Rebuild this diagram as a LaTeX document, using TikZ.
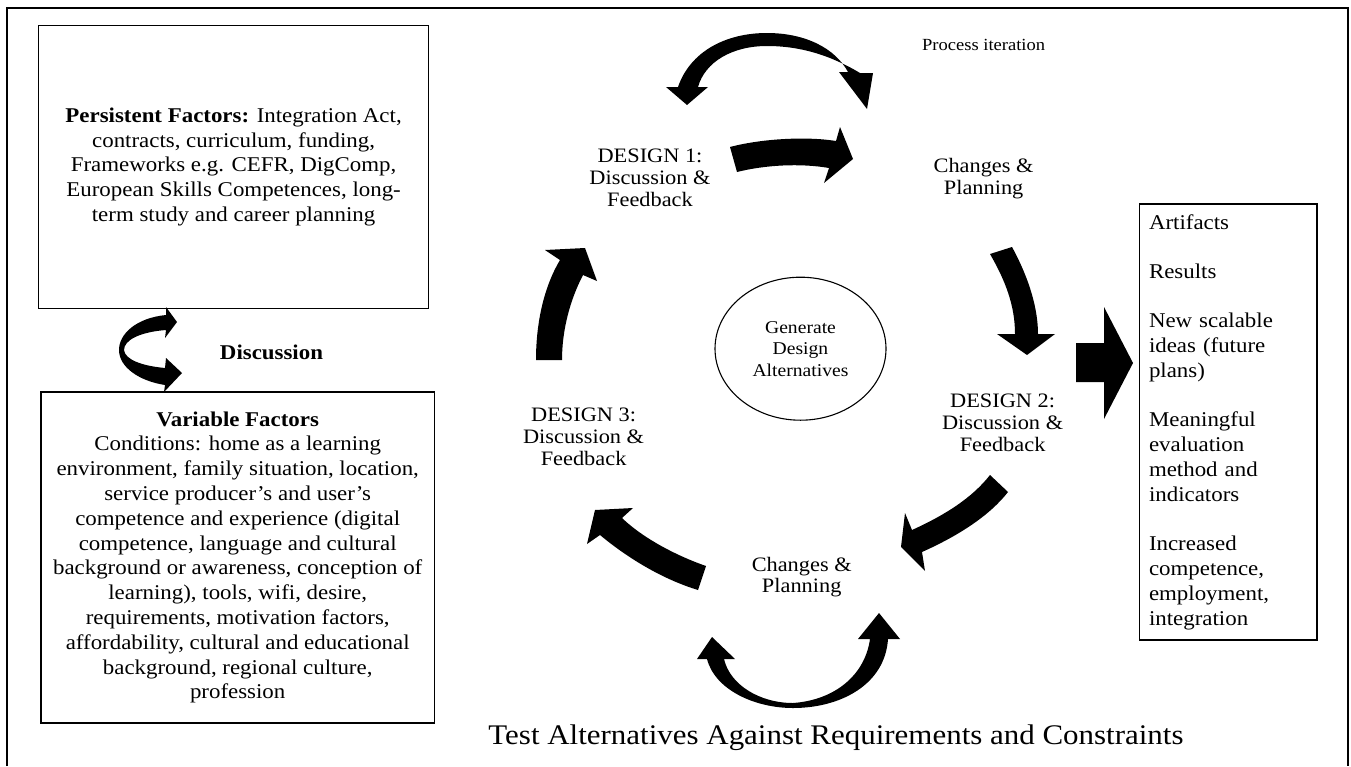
\documentclass[tikz,border=0pt]{standalone}
\usepackage{fontspec}
\setmainfont[FakeStretch=1.09]{Liberation Serif}
\usetikzlibrary{shapes.geometric}
\begin{document}
\begin{tikzpicture}[x=1pt,y=-1pt,
  frameline/.style={line width=1.2pt},
  infobox/.style={draw,line width=1.3pt,inner sep=0pt,
    font=\fontsize{21}{24.8}\selectfont,align=center},
  stage/.style={inner sep=0pt,font=\fontsize{20.5}{21.7}\selectfont,align=center},
  blockarrow/.style={fill=black,draw=none}]
\useasboundingbox (0,0) rectangle (1351,766);

% outer frame (open at the bottom)
\draw[frameline] (7,766) -- (7,8) -- (1348,8) -- (1348,766);

% left column: the two factor boxes
\node[infobox,minimum width=389.6pt,minimum height=283pt] (persist) at (233.6,166.8)
  {\textbf{Persistent Factors:} Integration Act,\\
   contracts, curriculum, funding,\\
   Frameworks e.g. CEFR, DigComp,\\
   European Skills Competences, long-\\
   term study and career planning};

\node[infobox,minimum width=393.5pt,minimum height=331pt] (variable) at (237.7,557.5)
  {\textbf{Variable Factors}\\
   Conditions: home as a learning\\
   environment, family situation, location,\\
   service producer’s and user’s\\
   competence and experience (digital\\
   competence, language and cultural\\
   background or awareness, conception of\\
   learning), tools, wifi, desire,\\
   requirements, motivation factors,\\
   affordability, cultural and educational\\
   background, regional culture,\\
   profession};

\node[inner sep=0pt,font=\fontsize{21}{24.8}\selectfont\bfseries] (disc) at (271.5,352) {Discussion};

% curved two-headed arrow between the factor boxes
\fill[blockarrow] (166,315) .. controls (136,318) and (119,334) .. (119,350)
  .. controls (119,367) and (139,381) .. (165,385) -- (164,392) -- (182,373)
  -- (166,358) -- (165,368) .. controls (143,366) and (125,360) .. (124,350)
  .. controls (124,340) and (140,332) .. (166,330) -- (165,338) -- (177,322)
  -- (166,307) -- cycle;

% results box
\node[infobox,align=left,minimum height=436pt,text width=158.6pt,inner xsep=9.4pt]
  (results) at (1228.3,422)
  {Artifacts\\[24.6pt]
   Results\\[24.6pt]
   New scalable\\ ideas (future\\ plans)\\[24.6pt]
   Meaningful\\ evaluation\\ method and\\ indicators\\[24.6pt]
   Increased\\ competence,\\ employment,\\ integration};

% cycle labels
\node[stage] (d1) at (650,178) {DESIGN 1:\\ Discussion \&\\ Feedback};
\node[stage] (cp1) at (983.6,178.5) {Changes \&\\ Planning};
\node[stage] (d2) at (1002.6,423) {DESIGN 2:\\ Discussion \&\\ Feedback};
\node[stage] (cp2) at (801.7,577) {Changes \&\\ Planning};
\node[stage] (d3) at (583.6,437) {DESIGN 3:\\ Discussion \&\\ Feedback};

\node[draw,line width=1.1pt,ellipse,minimum width=171pt,minimum height=143pt,
  inner sep=0pt,font=\fontsize{18}{21.5}\selectfont,align=center] (gen) at (800.5,348.7)
  {Generate\\ Design\\ Alternatives};

\node[inner sep=0pt,font=\fontsize{17}{20}\selectfont] (iter) at (983.6,44.5) {Process iteration};
\node[inner sep=0pt,font=\fontsize{28.4}{32}\selectfont] (test) at (836,738) {Test Alternatives Against Requirements and Constraints};

% process iteration double arrow (top)
\fill[blockarrow] (678,87) -- (666,87) -- (687,105) -- (708,87) -- (698,87)
  .. controls (705,62) and (732,46) .. (767,46)
  .. controls (800,46) and (830,55) .. (860,73) -- (873,73) -- (867,109) -- (839,72) -- (848,72)
  .. controls (835,48) and (805,33) .. (767,33)
  .. controls (725,33) and (690,52) .. (678,87) -- cycle;

% design 1 -> changes
\fill[blockarrow] (730,147) .. controls (760,139) and (805,136) .. (836,141)
  -- (840,127) -- (853,159) -- (824,183) -- (829,168)
  .. controls (800,163) and (765,165) .. (737,172) -- cycle;

% changes -> design 2
\fill[blockarrow] (990,254) -- (1012,247) .. controls (1030,280) and (1038,310) .. (1038,334)
  -- (1055,334) -- (1027,355) -- (997,334) -- (1015,334)
  .. controls (1015,305) and (1005,280) .. (990,254) -- cycle;

% design 2 -> changes
\fill[blockarrow] (990,475) -- (1008,492) .. controls (990,515) and (960,535) .. (922,552)
  -- (925,571) -- (901,547) -- (905,513) -- (912,530)
  .. controls (945,515) and (972,498) .. (990,475) -- cycle;

% changes -> design 3
\fill[blockarrow] (706,566) .. controls (680,557) and (645,540) .. (622,518)
  -- (633,508) -- (595,510) -- (587,544) -- (600,535)
  .. controls (630,560) and (665,580) .. (698,590) -- cycle;

% design 3 -> design 1
\fill[blockarrow] (536,360) .. controls (536,320) and (545,285) .. (560,260)
  -- (545,250) -- (585,248) -- (597,281) -- (583,275)
  .. controls (570,300) and (562,330) .. (562,360) -- cycle;

% test double arrow (bottom)
\fill[blockarrow] (707,659) .. controls (715,690) and (755,708) .. (793,708)
  .. controls (840,708) and (885,685) .. (888,639) -- (900,639) -- (879,613) -- (858,639) -- (870,639)
  .. controls (865,675) and (835,700) .. (793,703)
  .. controls (760,703) and (730,685) .. (724,659) -- (735,659) -- (712,637) -- (697,659) -- cycle;

% output arrow into the results box
\fill[blockarrow] (1076,343) -- (1104,343) -- (1104,307) -- (1133,363) -- (1104,419)
  -- (1104,382) -- (1076,382) -- cycle;
\end{tikzpicture}
\end{document}
